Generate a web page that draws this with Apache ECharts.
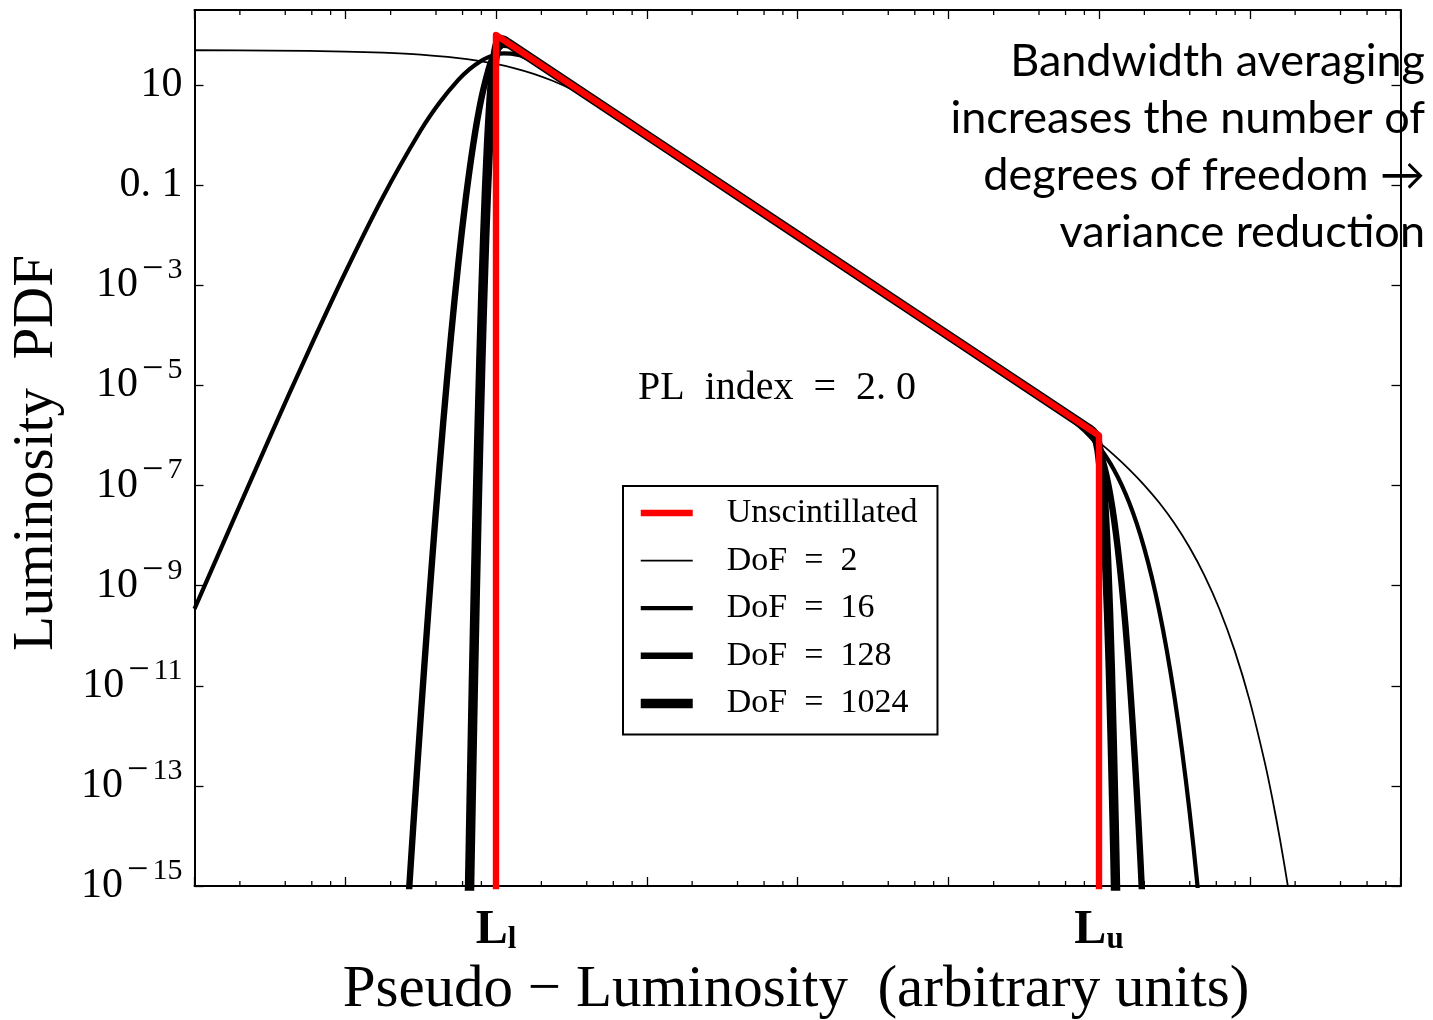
<!DOCTYPE html>
<html>
<head>
<meta charset="utf-8">
<title>Luminosity PDF</title>
<script src="https://cdn.jsdelivr.net/npm/echarts@6/dist/echarts.min.js"></script>
<style>
  html, body { margin: 0; padding: 0; background: #fff; }
  #chart { width: 1433px; height: 1020px; }
</style>
</head>
<body>
<div id="chart"></div>
<script>
// All curve values are log10 quantities: x = log10(pseudo-luminosity), y = log10(PDF).
// Lower / upper luminosity limits sit at log10 L = -2 and +2.

const unscLum = [-2, -2, 2, 2];
const unscPdf = [-16, 2, -6, -16];

const dof2Lum = [-4, -3.5, -3, -2.75, -2.5, -2.25, -2.125, -2, -1.875, -1.75, -1.625, -1.5, -1.375, -1.25, -1.125, -1,
  0, 1, 1.5, 1.75, 1.9, 2, 2.1, 2.2, 2.3, 2.4, 2.5, 2.6, 2.7, 2.8, 2.9, 3.0, 3.1, 3.15, 3.2, 3.25, 3.3];
const dof2Pdf = [1.696, 1.690, 1.670, 1.648, 1.609, 1.540, 1.489, 1.422, 1.335, 1.225, 1.086, 0.916, 0.715, 0.490, 0.248, 0.000,
  -2.000, -4.002, -5.018, -5.550, -5.891, -6.133, -6.393, -6.676, -6.990, -7.345, -7.754, -8.232, -8.798, -9.476, -10.298, -11.302, -12.535, -13.255, -14.057, -14.949, -15.944];

const dof16Lum = [-4, -3.5, -3.25, -3, -2.75, -2.5, -2.375, -2.25, -2.175, -2.1, -2.05, -2, -1.95, -1.9, -1.85, -1.825, -1.75, -1.625, -1.5,
  0, 1.5, 1.75, 1.9, 1.95, 2, 2.05, 2.1, 2.15, 2.2, 2.25, 2.3, 2.35, 2.4, 2.45, 2.5, 2.55, 2.6, 2.65, 2.7];
const dof16Pdf = [-9.463, -6.031, -4.358, -2.744, -1.234, 0.092, 0.648, 1.104, 1.319, 1.482, 1.559, 1.610, 1.633, 1.629, 1.600, 1.576, 1.475, 1.248, 1.000,
  -2.000, -5.001, -5.518, -5.892, -6.048, -6.227, -6.438, -6.688, -6.985, -7.338, -7.756, -8.249, -8.829, -9.506, -10.296, -11.212, -12.272, -13.492, -14.894, -16.500];

const dof128Lum = [-2.6, -2.575, -2.55, -2.5, -2.45, -2.4, -2.35, -2.3, -2.25, -2.2, -2.15, -2.1, -2.05, -2.025, -2, -1.975, -1.95, -1.9, -1.85, -1.8,
  0, 1.8, 1.85, 1.9, 1.95, 1.975, 2, 2.025, 2.05, 2.075, 2.1, 2.125, 2.15, 2.175, 2.2, 2.225, 2.25, 2.275, 2.3];
const dof128Pdf = [-16.176, -15.006, -13.860, -11.646, -9.545, -7.570, -5.737, -4.061, -2.561, -1.255, -0.165, 0.692, 1.308, 1.519, 1.669, 1.762, 1.806, 1.785, 1.699, 1.600,
  -2.000, -5.600, -5.702, -5.814, -5.976, -6.101, -6.273, -6.505, -6.809, -7.197, -7.679, -8.265, -8.964, -9.784, -10.740, -11.846, -13.087, -14.493, -16.070];

const dof1024Lum = [-2.2, -2.175, -2.15, -2.125, -2.1, -2.075, -2.05, -2.025, -2, -1.975, -1.95, -1.925,
  0, 1.925, 1.95, 1.975, 2, 2.025, 2.05, 2.075, 2.1, 2.11];
const dof1024Pdf = [-19.474, -14.966, -10.943, -7.431, -4.456, -2.040, -0.214, 1.021, 1.689, 1.905, 1.898, 1.850,
  -2.000, -5.850, -5.902, -5.993, -6.291, -7.054, -8.466, -10.645, -13.655, -15.112];

const seriesNames = ['Unscintillated', 'DoF  =  2', 'DoF  =  16', 'DoF  =  128', 'DoF  =  1024'];

// Axis decorations
const xMajorTicks = [-4, -3, -2, -1, 0, 1, 2, 3, 4];
const xMinorMultipliers = [2, 4, 6, 8];
const xLabelTicks = [-2, 2];
const xLabelSubscripts = { '-2': 'l', '2': 'u' };
const yMajorTicks = [-15, -13, -11, -9, -7, -5, -3, -1, 1];
const Y_MIN = -15, Y_MAX = 2.5;

const xMinorTicks = [];
for (let k = -4; k < 4; k++) {
  xMinorMultipliers.forEach(m => xMinorTicks.push(k + Math.log10(m)));
}

const pairs = (xs, ys) => xs.map((x, i) => [x, ys[i]]);

const SERIF = '"Liberation Serif", "DejaVu Serif", serif';

function yTickLabel(v) {
  if (v === 1) return '{b|10}';
  if (v === -1) return '{b|0. 1}';
  return '{b|10}{m|\u2212}{s|' + (-v) + '}';
}

const chart = echarts.init(document.getElementById('chart'), null, { renderer: 'canvas' });

const tickLine = { color: '#000', width: 1.3 };
const spine = { show: true, onZero: false, lineStyle: { color: '#000', width: 2 } };

// Short inward minor ticks on the bottom and top spines
function renderMinorTick(params, api) {
  const x = api.value(0);
  const pb = api.coord([x, Y_MIN]);
  const pt = api.coord([x, Y_MAX]);
  const style = { stroke: '#000', lineWidth: 1.3 };
  return {
    type: 'group',
    children: [
      { type: 'line', shape: { x1: pb[0], y1: pb[1], x2: pb[0], y2: pb[1] - 5 }, style },
      { type: 'line', shape: { x1: pt[0], y1: pt[1], x2: pt[0], y2: pt[1] + 5 }, style }
    ]
  };
}

const lineSeries = (name, xs, ys, color, width, z) => ({
  name, type: 'line', data: pairs(xs, ys),
  symbol: 'none', smooth: color === '#ff0000' ? false : 0.3,
  itemStyle: { color },
  lineStyle: { color, width, join: 'round' }, z
});

const option = {
  backgroundColor: '#fff',
  animation: false,
  grid: { left: 194.5, right: 32.5, top: 10, bottom: 134, containLabel: false },
  xAxis: [
    {
      type: 'value', min: -4, max: 4, position: 'bottom',
      axisLine: spine,
      axisTick: { show: true, inside: true, length: 9, lineStyle: tickLine, customValues: xMajorTicks },
      axisLabel: {
        show: true, customValues: xLabelTicks, margin: 21,
        formatter: v => '{b|L}{s|' + xLabelSubscripts[String(v)] + '}',
        rich: {
          b: { fontFamily: SERIF, fontWeight: 'bold', fontSize: 48, lineHeight: 48, color: '#000', verticalAlign: 'bottom' },
          s: { fontFamily: SERIF, fontWeight: 'bold', fontSize: 31, lineHeight: 31, color: '#000', verticalAlign: 'bottom' }
        }
      },
      splitLine: { show: false }
    },
    {
      type: 'value', min: -4, max: 4, position: 'top',
      axisLine: spine,
      axisTick: { show: true, inside: true, length: 9, lineStyle: tickLine, customValues: xMajorTicks },
      axisLabel: { show: false },
      splitLine: { show: false }
    }
  ],
  yAxis: [
    {
      type: 'value', min: Y_MIN, max: Y_MAX, position: 'left',
      axisLine: spine,
      axisTick: { show: true, inside: true, length: 9, lineStyle: tickLine, customValues: yMajorTicks },
      axisLabel: {
        show: true, customValues: yMajorTicks, margin: 12, align: 'right',
        formatter: yTickLabel,
        rich: {
          b: { fontFamily: SERIF, fontSize: 42, lineHeight: 42, color: '#000', verticalAlign: 'middle' },
          m: { fontFamily: SERIF, fontSize: 38, lineHeight: 38, color: '#000', verticalAlign: 'middle', padding: [0, 4, 30, 4] },
          s: { fontFamily: SERIF, fontSize: 30, lineHeight: 30, color: '#000', verticalAlign: 'middle', padding: [0, 0, 30, 0] }
        }
      },
      splitLine: { show: false }
    },
    {
      type: 'value', min: Y_MIN, max: Y_MAX, position: 'right',
      axisLine: spine,
      axisTick: { show: true, inside: true, length: 9, lineStyle: tickLine, customValues: yMajorTicks },
      axisLabel: { show: false },
      splitLine: { show: false }
    }
  ],
  legend: {
    data: seriesNames,
    orient: 'vertical',
    left: 623, top: 486,
    padding: [10, 20, 14, 13],
    itemWidth: 52, itemHeight: 12, itemGap: 13.6,
    borderColor: '#000', borderWidth: 2, backgroundColor: '#fff',
    selectedMode: false,
    itemStyle: { opacity: 0 },
    lineStyle: { width: 'inherit' },
    textStyle: { fontFamily: SERIF, fontSize: 34, lineHeight: 30, color: '#000', padding: [0, 0, 0, 29] }
  },
  series: [
    {
      type: 'custom', name: 'minor ticks', coordinateSystem: 'cartesian2d',
      xAxisIndex: 0, yAxisIndex: 0, silent: true, clip: false, z: 5,
      data: xMinorTicks.map(v => [v, Y_MIN]),
      renderItem: renderMinorTick
    },
    lineSeries(seriesNames[1], dof2Lum, dof2Pdf, '#000', 1.8, 3),
    lineSeries(seriesNames[2], dof16Lum, dof16Pdf, '#000', 4.2, 3),
    lineSeries(seriesNames[3], dof128Lum, dof128Pdf, '#000', 6.4, 3),
    lineSeries(seriesNames[4], dof1024Lum, dof1024Pdf, '#000', 9.5, 3),
    lineSeries(seriesNames[0], unscLum, unscPdf, '#ff0000', 6.4, 4)
  ],
  graphic: [
    {
      type: 'text', x: 37, y: 453, rotation: Math.PI / 2, z: 10,
      style: { text: 'Luminosity  PDF', font: '57px ' + SERIF, fill: '#000',
        textAlign: 'center', textVerticalAlign: 'middle', align: 'center', verticalAlign: 'middle' }
    },
    {
      type: 'text', x: 796, y: 990, z: 10,
      style: { text: 'Pseudo \u2212 Luminosity  (arbitrary units)', font: '59px ' + SERIF, fill: '#000',
        textAlign: 'center', textVerticalAlign: 'middle', align: 'center', verticalAlign: 'middle' }
    },
    {
      type: 'text', x: 777, y: 388, z: 10,
      style: { text: 'PL  index  =  2. 0', font: '40px ' + SERIF, fill: '#000',
        textAlign: 'center', textVerticalAlign: 'middle', align: 'center', verticalAlign: 'middle' }
    },
    {
      type: 'text', x: 1425, y: 33, z: 10,
      style: { text: 'Bandwidth averaging\nincreases the number of\ndegrees of freedom \u2192\nvariance reduction',
        font: '45px Lato, "Open Sans", sans-serif', lineHeight: 57, fill: '#000',
        textAlign: 'right', textVerticalAlign: 'top', align: 'right', verticalAlign: 'top' }
    }
  ]
};

chart.setOption(option);
</script>
</body>
</html>
